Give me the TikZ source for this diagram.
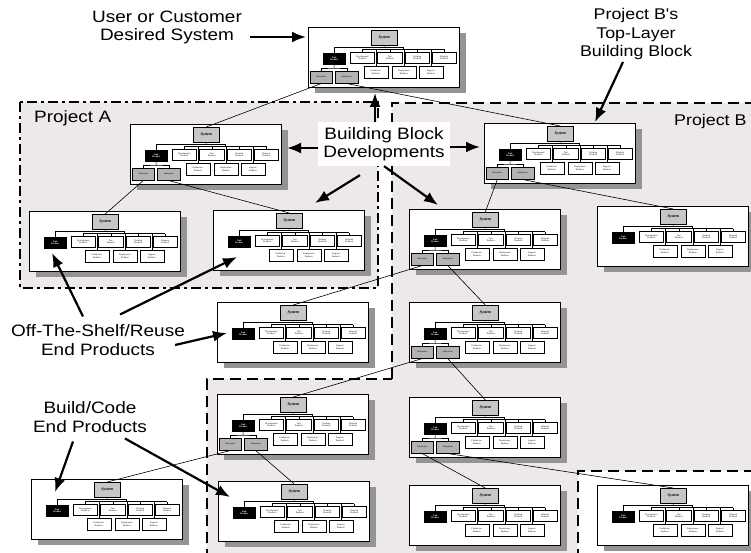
\documentclass[tikz,border=0pt]{standalone}
\usepackage{fontspec}
\setmainfont{Liberation Sans}
\newfontfamily\lblfont[FakeStretch=1.15]{Liberation Sans}
\newfontfamily\bxfont{Liberation Serif}
\usetikzlibrary{arrows.meta}

\definecolor{projfill}{RGB}{236,232,236}
\def\cSys{black!22}
\def\cSub{black!30}
\def\cShd{black!42}

\tikzstyle{blk} = [draw, rectangle, anchor=north west, fill=white,
                   minimum width=151pt, minimum height=60pt, inner sep=0pt,
                   line width=0.9pt]
\tikzstyle{op}  = [draw, rectangle, anchor=north west, fill=white,
                   minimum width=24pt, minimum height=11pt, inner sep=0pt,
                   line width=0.55pt, align=center,
                   font=\bxfont\fontsize{2.3}{2.6}\selectfont]
\tikzstyle{bus} = [line width=0.45pt]
\tikzstyle{link} = [line width=0.6pt]
\tikzstyle{lbl} = [align=center, inner sep=2pt,
                   font=\lblfont\fontsize{16.5}{18.5}\selectfont]
\tikzstyle{lbls} = [lbl, font=\lblfont\fontsize{15.5}{18.5}\selectfont]
\tikzstyle{arr} = [->, line width=2.2pt]
\tikzstyle{projA} = [line width=2.6pt,
                     dash pattern=on 10pt off 4pt on 3pt off 4pt]
\tikzstyle{projB} = [line width=2.6pt, dash pattern=on 11pt off 6pt]

% one building block: name, x, y, 1 = with subsystems
\newcommand\bblock[4]{%
  \node[blk, draw=none, fill=\cShd] at (#2+7,#3+6) {};
  \node[blk] (#1) at (#2,#3) {};
  \begin{scope}[shift={(#2,#3)}]
    \node[op, fill=\cSys, minimum width=26pt, minimum height=15pt,
          font=\bxfont\bfseries\itshape\fontsize{4}{4}\selectfont]
         at (63,3) (#1-sys) {System};
    \node[op, fill=black, text=white, minimum width=22pt,
          font=\bxfont\bfseries\fontsize{2.3}{2.6}\selectfont]
         at (15,26) (#1-end) {End\\Product};
    \node[op] at (42,25) (#1-dev) {Development\\Products};
    \node[op, minimum width=25pt] at (69,25) (#1-test) {Test\\Products};
    \node[op] at (97,25) (#1-train) {Training\\Products};
    \node[op] at (124,25) (#1-disp) {Disposal\\Products};
    \node[op, minimum height=12pt] at (55.5,39) (#1-prod)
         {Production\\Products};
    \node[op, minimum height=12pt] at (83.5,39) (#1-depl)
         {Deployment\\Products};
    \node[op, minimum height=12pt] at (110.5,39) (#1-supp)
         {Support\\Products};
    \coordinate (#1-tj) at (76,20);
    \coordinate (#1-tr) at (95.5,20);
    \coordinate (#1-b2) at (95.5,22.5);
    \draw[bus] (#1-sys.south) -- (#1-tj);
    \draw[bus] (#1-end.north) |- (#1-tr) -- (#1-b2);
    \draw[bus] (#1-dev.north |- #1-b2) -- (#1-disp.north |- #1-b2);
    \foreach \p in {dev,test,train,disp,prod,depl,supp}
      \draw[bus] (#1-\p.north) -- (#1-\p.north |- #1-b2);
    \ifnum#4=1
      \node[op, fill=\cSub, minimum width=22pt, minimum height=12pt]
           at (2,44) (#1-sa) {Subsystem};
      \node[op, fill=\cSub, minimum width=23pt, minimum height=12pt]
           at (27,44) (#1-sb) {Subsystem};
      \coordinate (#1-sj) at (26,41);
      \draw[bus] (#1-end.south) -- (#1-sj);
      \draw[bus] (#1-sa.north) |- (#1-sj) -| (#1-sb.north);
    \fi
  \end{scope}}

\begin{document}
\begin{tikzpicture}[x=1pt,y=-1pt,>={Latex[length=14pt,width=11pt]}]
\useasboundingbox (0,0) rectangle (751,553);

% project areas
\fill[projfill] (20,102) rectangle (378,288);
\fill[projfill] (392,103) -- (760,103) -- (760,471) -- (578,471)
     -- (578,560) -- (207,560) -- (207,379) -- (392,379) -- cycle;
\fill[white] (578,471) rectangle (760,560);
\draw[projA] (20,102) rectangle (378,288);
\draw[projB] (392,379) -- (392,103) -- (760,103);
\draw[projB] (207,560) -- (207,379) -- (392,379);
\draw[projB] (578,560) -- (578,471) -- (760,471);

% building blocks
\bblock{T}{308}{27}{1}
\bblock{A1}{130}{124}{1}
\bblock{A2}{29}{211}{0}
\bblock{A3}{213}{210}{0}
\bblock{B1}{484}{123}{1}
\bblock{B2}{409}{209}{1}
\bblock{B3}{597}{206}{0}
\bblock{C1}{217}{302}{0}
\bblock{B4}{409}{302}{1}
\bblock{D1}{217}{394}{1}
\bblock{B5}{409}{397}{1}
\bblock{D2}{31}{479}{0}
\bblock{D3}{218}{481}{0}
\bblock{B6}{409}{485}{0}
\bblock{E1}{597}{485}{0}

% subsystem -> system links
\draw[link] (T-sa.south) -- (A1-sys.north);
\draw[link] (T-sb.south) -- (B1-sys.north);
\draw[link] (A1-sa.south) -- (A2-sys.north);
\draw[link] (A1-sb.south) -- (A3-sys.north);
\draw[link] (B1-sa.south) -- (B2-sys.north);
\draw[link] (B1-sb.south) -- (B3-sys.north);
\draw[link] (B2-sa.south) -- (C1-sys.north);
\draw[link] (B2-sb.south) -- (B4-sys.north);
\draw[link] (B4-sa.south) -- (D1-sys.north);
\draw[link] (B4-sb.south) -- (B5-sys.north);
\draw[link] (B5-sa.south) -- (B6-sys.north);
\draw[link] (B5-sb.south) -- (E1-sys.north);
\draw[link] (D1-sa.south) -- (D2-sys.north);
\draw[link] (D1-sb.south) -- (D3-sys.north);

% labels
\node[lbl] (usr) at (167,27.5) {User or Customer\\Desired System};
\node[lbls] (pbt) at (636,34) {Project B's\\Top-Layer\\Building Block};
\node[lbl, fill=white, inner sep=5pt] (bbd) at (384,144)
     {Building Block\\Developments};
\node[lbl, anchor=base west] (pa) at (32,123) {Project A};
\node[lbls, anchor=base west] (pb) at (672,126) {Project B};
\node[lbl] (ots) at (98,340) {Off-The-Shelf/Reuse\\End Products};
\node[lbl] (bce) at (90,417) {Build/Code\\End Products};

% arrow tips
\coordinate (usr-t) at (306,37);
\coordinate (pbt-t) at (595,122);
\coordinate (bbd-u) at (375,93);
\coordinate (bbd-l) at (287,148);
\coordinate (bbd-r) at (480,147);
\coordinate (bbd-dl) at (315,203);
\coordinate (bbd-dr) at (438,205);
\coordinate (ots-t1) at (52,253);
\coordinate (ots-t2) at (237,257);
\coordinate (ots-t3) at (227,333);
\coordinate (bce-t1) at (55,492);
\coordinate (bce-t2) at (230,497);

\draw[arr] ([xshift=6pt]usr.east |- usr-t) -- (usr-t);
\draw[arr] (pbt) -- (pbt-t);
\draw[arr] (bbd.north -| bbd-u) -- (bbd-u);
\draw[arr] (bbd.west |- bbd-l) -- (bbd-l);
\draw[arr] (bbd.east |- bbd-r) -- (bbd-r);
\draw[arr] ([xshift=-24pt,yshift=-9pt]bbd.south) -- (bbd-dl);
\draw[arr] (bbd.south) -- (bbd-dr);
\draw[arr] ([xshift=-15pt,yshift=6pt]ots.north) -- (ots-t1);
\draw[arr] ([xshift=22pt,yshift=8pt]ots.north) -- (ots-t2);
\draw[arr] ([xshift=-12pt,yshift=-5pt]ots.east) -- (ots-t3);
\draw[arr] ([xshift=-17pt,yshift=-7pt]bce.south) -- (bce-t1);
\draw[arr] ([xshift=35pt,yshift=-4pt]bce.south) -- (bce-t2);

\end{tikzpicture}
\end{document}
